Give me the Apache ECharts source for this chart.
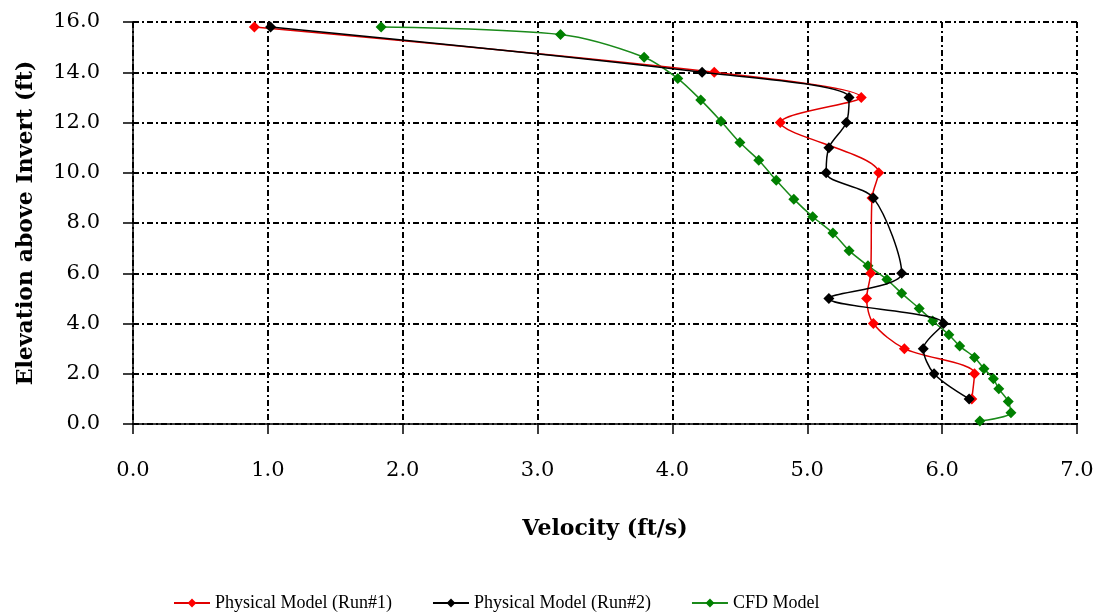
<!DOCTYPE html>
<html>
<head>
<meta charset="utf-8">
<script src="https://cdn.jsdelivr.net/npm/echarts@6/dist/echarts.min.js"></script>
<style>
  html, body { margin: 0; padding: 0; background: #fff; }
  #main { width: 1099px; height: 613px; }
</style>
</head>
<body>
<div id="main"></div>
<script>
// Physical Model (Run#1)
var run1Vel  = [0.90, 4.31, 5.40, 4.80, 5.53, 5.48, 5.47, 5.44, 5.49, 5.72, 6.24, 6.22];
var run1Elev = [15.8, 14.0, 13.0, 12.0, 10.0, 9.0, 6.0, 5.0, 4.0, 3.0, 2.0, 1.0];

// Physical Model (Run#2)
var run2Vel  = [1.02, 4.22, 5.31, 5.29, 5.16, 5.14, 5.49, 5.70, 5.16, 6.01, 5.86, 5.94, 6.20];
var run2Elev = [15.8, 14.0, 13.0, 12.0, 11.0, 10.0, 9.0, 6.0, 5.0, 4.0, 3.0, 2.0, 1.0];

// CFD Model
var cfdVel  = [1.84, 3.17, 3.79, 4.04, 4.21, 4.36, 4.50, 4.64, 4.77, 4.90, 5.04, 5.19, 5.31, 5.45,
               5.59, 5.70, 5.83, 5.93, 6.05, 6.13, 6.24, 6.31, 6.38, 6.42, 6.49, 6.51, 6.28];
var cfdElev = [15.8, 15.5, 14.6, 13.75, 12.9, 12.05, 11.2, 10.5, 9.7, 8.95, 8.25, 7.6, 6.9, 6.3,
               5.75, 5.2, 4.6, 4.1, 3.55, 3.1, 2.65, 2.2, 1.8, 1.4, 0.9, 0.45, 0.12];

var seriesNames = ['Physical Model (Run#1)', 'Physical Model (Run#2)', 'CFD Model'];

function pairs(xs, ys) {
    var res = [];
    for (var i = 0; i < xs.length; i++) {
        res.push([xs[i], ys[i]]);
    }
    return res;
}

var serif = "'Liberation Serif', 'DejaVu Serif', serif";
var wideSerif = "'DejaVu Serif', 'Liberation Serif', serif";
var gridLine = { color: '#000', width: 2, type: [6, 3, 2, 3] };

var chart = echarts.init(document.getElementById('main'), null, { renderer: 'canvas' });

var option = {
    backgroundColor: '#fff',
    animation: false,
    grid: { left: 133, right: 22, top: 22, bottom: 189 },
    legend: {
        data: seriesNames,
        left: 168,
        top: 589,
        itemWidth: 36,
        itemHeight: 11,
        itemGap: 40,
        textStyle: { fontFamily: serif, fontSize: 18, color: '#000' }
    },
    xAxis: {
        type: 'value',
        min: 0, max: 7, interval: 1,
        name: 'Velocity (ft/s)',
        nameLocation: 'middle',
        nameGap: 94,
        nameTextStyle: { fontFamily: wideSerif, fontSize: 22, fontWeight: 'bold', color: '#000' },
        axisLine: { lineStyle: { color: '#000', width: 1.5 } },
        axisTick: { show: true, length: 10, lineStyle: { color: '#000', width: 1.5 } },
        axisLabel: {
            margin: 36,
            fontFamily: wideSerif, fontSize: 21, color: '#000',
            formatter: function(v) { return v.toFixed(1); }
        },
        splitLine: { show: true, lineStyle: gridLine }
    },
    yAxis: {
        type: 'value',
        min: 0, max: 16, interval: 2,
        name: 'Elevation above Invert (ft)',
        nameLocation: 'middle',
        nameGap: 96,
        nameTextStyle: { fontFamily: wideSerif, fontSize: 22, fontWeight: 'bold', color: '#000' },
        axisLine: { show: true, lineStyle: { color: '#000', width: 1.5 } },
        axisTick: { show: true, length: 10, lineStyle: { color: '#000', width: 1.5 } },
        axisLabel: {
            margin: 33,
            fontFamily: wideSerif, fontSize: 21, color: '#000',
            formatter: function(v) { return v.toFixed(1); }
        },
        splitLine: { show: true, lineStyle: gridLine }
    },
    series: [{
        name: seriesNames[0],
        type: 'line',
        smooth: 0.3,
        symbol: 'diamond',
        symbolSize: 11,
        itemStyle: { color: '#ff0000' },
        lineStyle: { color: '#e00000', width: 1.5 },
        data: pairs(run1Vel, run1Elev),
        z: 3
    }, {
        name: seriesNames[1],
        type: 'line',
        smooth: 0.3,
        symbol: 'diamond',
        symbolSize: 11,
        itemStyle: { color: '#000' },
        lineStyle: { color: '#000', width: 1.5 },
        data: pairs(run2Vel, run2Elev),
        z: 4
    }, {
        name: seriesNames[2],
        type: 'line',
        smooth: 0.3,
        symbol: 'diamond',
        symbolSize: 11,
        itemStyle: { color: '#008000' },
        lineStyle: { color: '#1a8a1a', width: 1.5 },
        data: pairs(cfdVel, cfdElev),
        z: 2
    }]
};

chart.setOption(option);
</script>
</body>
</html>
